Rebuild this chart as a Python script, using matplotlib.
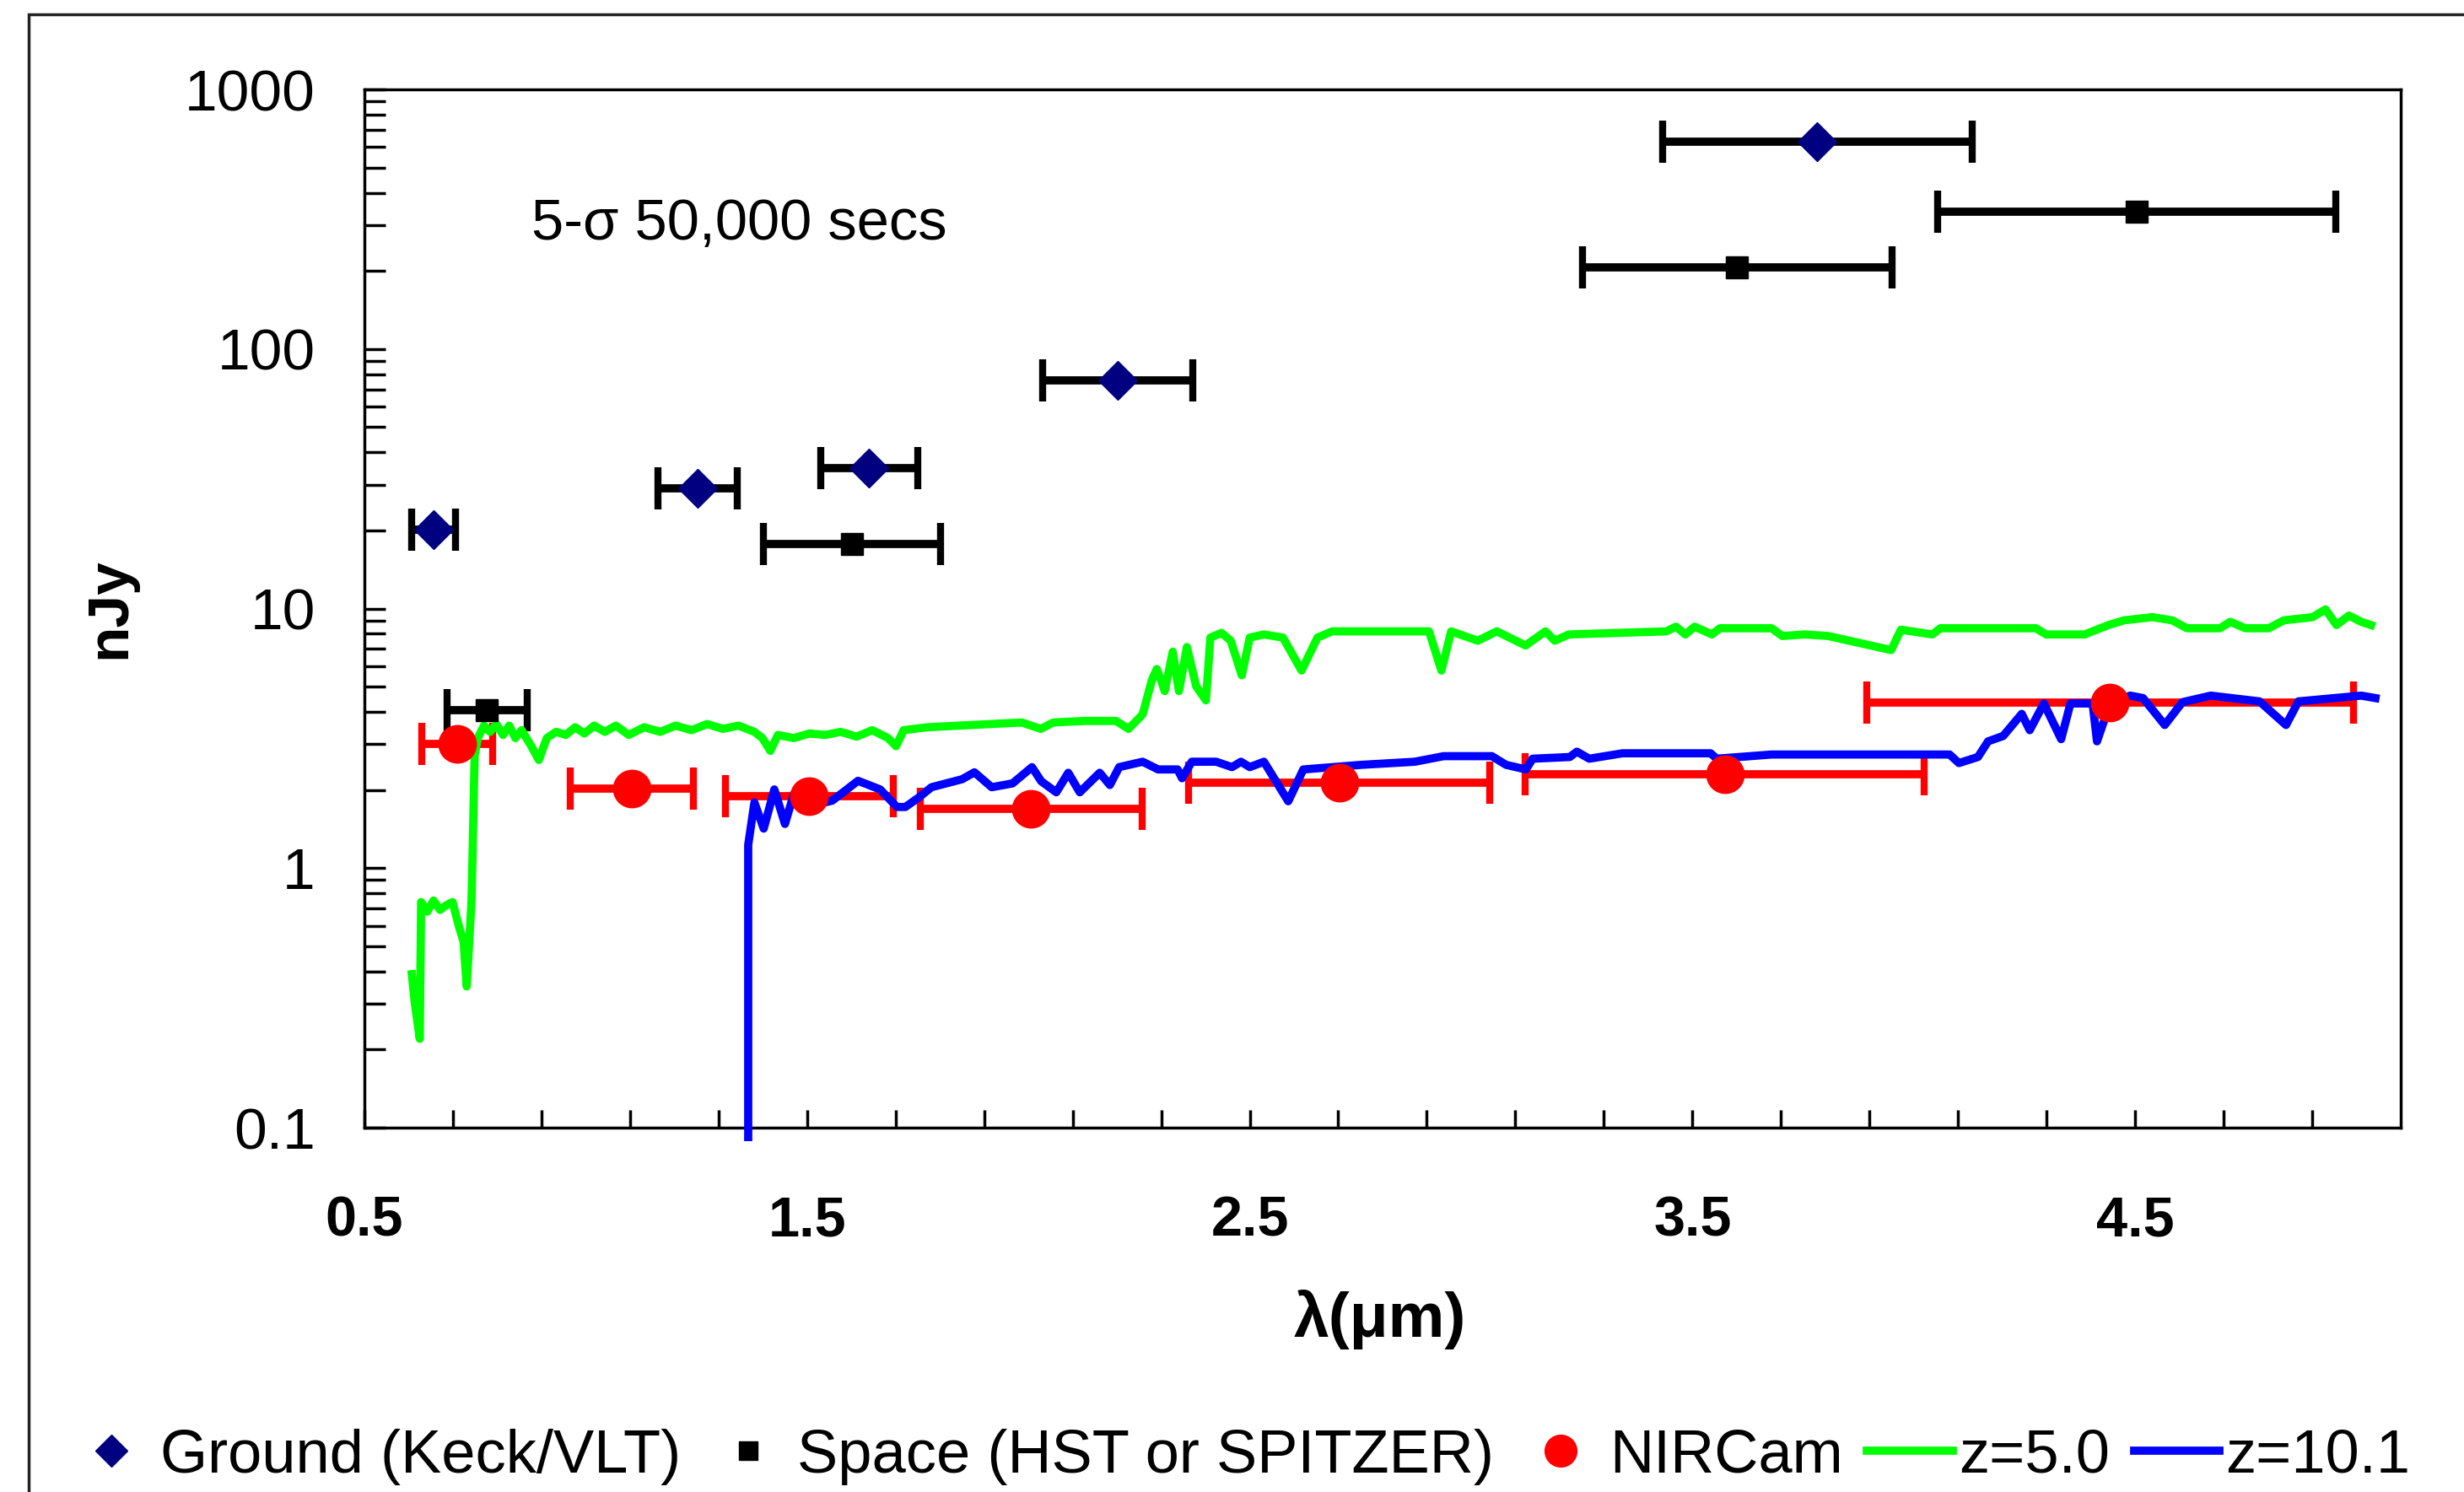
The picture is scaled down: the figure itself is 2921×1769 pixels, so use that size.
import matplotlib
matplotlib.use("Agg")
import matplotlib.pyplot as plt
from matplotlib.patches import Rectangle
from matplotlib.ticker import LogLocator, NullFormatter

plt.rcParams['font.family'] = ['Liberation Sans', 'DejaVu Sans']

# broadband 5-sigma limits, wavelength (um), flux (nJy), half band width (um)
ground_wl = [0.656, 1.253, 1.640, 2.202, 3.782]
ground_flux = [20.2, 29.0, 34.8, 75.9, 631.0]
ground_dwl = [0.05, 0.09, 0.11, 0.17, 0.35]

space_wl = [0.777, 1.601, 3.601, 4.504]
space_flux = [4.07, 17.8, 207.0, 337.0]
space_dwl = [0.09, 0.20, 0.35, 0.45]

nircam_wl = [0.710, 1.104, 1.505, 2.006, 2.702, 3.573, 4.443]
nircam_flux = [3.0, 2.03, 1.89, 1.69, 2.14, 2.30, 4.36]
nircam_dwl = [0.08, 0.14, 0.19, 0.25, 0.34, 0.45, 0.55]

# model galaxy spectra
z5_wl = [0.607, 0.614, 0.625, 0.628, 0.642, 0.656, 0.671, 0.685, 0.699, 0.713,
         0.724, 0.731, 0.742, 0.749, 0.756, 0.770, 0.784, 0.798, 0.813, 0.827,
         0.841, 0.855, 0.877, 0.894, 0.912, 0.933, 0.955, 0.976, 0.997, 1.019,
         1.043, 1.068, 1.097, 1.132, 1.168, 1.203, 1.239, 1.274, 1.310, 1.345,
         1.381, 1.399, 1.417, 1.434, 1.470, 1.505, 1.541, 1.576, 1.612, 1.647,
         1.683, 1.701, 1.718, 1.772, 1.843, 1.914, 1.985, 2.028, 2.056, 2.127,
         2.198, 2.226, 2.258, 2.279, 2.290, 2.308, 2.326, 2.340, 2.358, 2.379,
         2.401, 2.411, 2.436, 2.457, 2.482, 2.500, 2.532, 2.575, 2.617, 2.653,
         2.686, 2.905, 2.933, 2.955, 3.015, 3.058, 3.123, 3.168, 3.189, 3.221,
         3.441, 3.463, 3.484, 3.505, 3.544, 3.562, 3.679, 3.703, 3.754, 3.807,
         3.949, 3.971, 4.042, 4.060, 4.276, 4.299, 4.386, 4.440, 4.475, 4.539,
         4.584, 4.617, 4.692, 4.715, 4.749, 4.802, 4.836, 4.901, 4.930, 4.955,
         4.983, 5.011, 5.033]
z5_flux = [0.39, 0.30, 0.22, 0.74, 0.68, 0.75, 0.69, 0.72, 0.74, 0.60,
           0.52, 0.35, 0.75, 2.72, 3.17, 3.54, 3.35, 3.59, 3.26, 3.54,
           3.17, 3.40, 2.95, 2.61, 3.17, 3.35, 3.26, 3.49, 3.30, 3.54,
           3.35, 3.54, 3.26, 3.49, 3.35, 3.54, 3.40, 3.59, 3.44, 3.54,
           3.35, 3.17, 2.83, 3.26, 3.17, 3.30, 3.26, 3.35, 3.21, 3.40,
           3.17, 2.95, 3.40, 3.49, 3.54, 3.59, 3.64, 3.44, 3.64, 3.69,
           3.69, 3.44, 3.91, 5.31, 5.85, 4.81, 6.82, 4.81, 7.11, 5.02,
           4.43, 7.73, 8.06, 7.52, 5.53, 7.73, 7.95, 7.73, 5.77, 7.73,
           8.17, 8.17, 5.77, 8.17, 7.52, 8.17, 7.21, 8.17, 7.52, 7.95,
           8.17, 8.52, 7.95, 8.52, 7.95, 8.40, 8.40, 7.84, 7.95, 7.84,
           6.92, 8.29, 7.95, 8.40, 8.40, 7.95, 7.95, 8.64, 9.01, 9.27,
           9.01, 8.40, 8.40, 8.89, 8.40, 8.40, 9.01, 9.27, 9.93, 8.64,
           9.40, 8.89, 8.64]

z10_wl = [1.367, 1.367, 1.381, 1.402, 1.426, 1.450, 1.470, 1.498, 1.557, 1.615,
          1.665, 1.703, 1.722, 1.752, 1.781, 1.850, 1.878, 1.917, 1.964, 2.008,
          2.029, 2.063, 2.090, 2.116, 2.161, 2.184, 2.205, 2.258, 2.293, 2.337,
          2.347, 2.369, 2.424, 2.460, 2.480, 2.500, 2.532, 2.587, 2.621, 2.752,
          2.873, 2.938, 3.047, 3.079, 3.124, 3.139, 3.223, 3.239, 3.267, 3.342,
          3.541, 3.555, 3.679, 4.081, 4.102, 4.145, 4.168, 4.202, 4.244, 4.262,
          4.294, 4.333, 4.354, 4.404, 4.414, 4.442, 4.489, 4.518, 4.567, 4.607,
          4.671, 4.781, 4.841, 4.869, 5.011, 5.043]
z10_flux = [0.092, 1.23, 1.79, 1.42, 2.01, 1.48, 1.93, 1.72, 1.82, 2.17,
            2.01, 1.72, 1.72, 1.87, 2.05, 2.20, 2.34, 2.05, 2.12, 2.45,
            2.16, 1.96, 2.33, 1.96, 2.33, 2.09, 2.45, 2.57, 2.40, 2.40,
            2.22, 2.57, 2.57, 2.45, 2.57, 2.45, 2.57, 1.81, 2.40, 2.50,
            2.57, 2.70, 2.70, 2.50, 2.40, 2.64, 2.68, 2.81, 2.64, 2.77,
            2.77, 2.64, 2.74, 2.74, 2.54, 2.68, 3.08, 3.23, 3.93, 3.40,
            4.31, 3.14, 4.31, 4.31, 3.08, 4.24, 4.62, 4.52, 3.56, 4.36,
            4.62, 4.39, 3.56, 4.39, 4.62, 4.52]

xtick_major = [0.5, 1.5, 2.5, 3.5, 4.5]
xtick_labels = ['0.5', '1.5', '2.5', '3.5', '4.5']
xtick_minor = [0.7, 0.9, 1.1, 1.3, 1.7, 1.9, 2.1, 2.3, 2.7, 2.9, 3.1, 3.3,
               3.7, 3.9, 4.1, 4.3, 4.7, 4.9]
ytick_vals = [0.1, 1, 10, 100, 1000]
ytick_labels = ['0.1', '1', '10', '100', '1000']

fig = plt.figure(figsize=(29.21, 17.69), dpi=100)
fig.patches.append(Rectangle((0.0116, -0.2), 1.5, 1.1904, transform=fig.transFigure,
                             fill=False, edgecolor='#222222', lw=2.5, zorder=0))
ax = fig.add_axes([0.1479, 0.2442, 0.8264, 0.6958])

l_z5, = ax.plot(z5_wl, z5_flux, color='#00ff00', lw=7, zorder=3)
l_z10, = ax.plot(z10_wl, z10_flux, color='#0000ff', lw=7, zorder=3, clip_on=False)

eb = dict(fmt='none', elinewidth=7, capsize=18, capthick=6, zorder=2)
ax.errorbar(ground_wl, ground_flux, xerr=ground_dwl, ecolor='black', **eb)
ax.errorbar(space_wl, space_flux, xerr=space_dwl, ecolor='black', **eb)
ax.errorbar(nircam_wl, nircam_flux, xerr=nircam_dwl, ecolor='#ff0000', **eb)

m_g, = ax.plot(ground_wl, ground_flux, ls='none', marker='D', ms=23,
               color='#000080', zorder=4)
m_s, = ax.plot(space_wl, space_flux, ls='none', marker='s', ms=19,
               color='black', zorder=4)
m_n, = ax.plot(nircam_wl, nircam_flux, ls='none', marker='o', ms=32,
               color='#ff0000', zorder=4)

ax.set_yscale('log')
ax.set_xlim(0.5, 5.1)
ax.set_ylim(0.1, 1000)

ax.set_xticks(xtick_major)
ax.set_xticklabels(xtick_labels, fontsize=48, fontweight='bold')
ax.set_xticks(xtick_minor, minor=True)
ax.tick_params(axis='x', which='both', direction='in', length=15, width=2.5,
               pad=58, top=False)

ax.set_yticks(ytick_vals)
ax.set_yticklabels(ytick_labels, fontsize=50)
ax.yaxis.set_minor_locator(LogLocator(base=10, subs=range(2, 10)))
ax.yaxis.set_minor_formatter(NullFormatter())
ax.tick_params(axis='y', which='both', direction='in', length=18, width=2.5,
               pad=42, right=False)

for s in ax.spines.values():
    s.set_linewidth(2.5)

ax.set_xlabel('λ(μm)', fontsize=54, fontweight='bold', va='center')
ax.xaxis.set_label_coords(0.4988, -0.185)
ax.set_ylabel('nJy', fontsize=50, fontweight='bold', va='center')
ax.yaxis.set_label_coords(-0.125, 0.5)

ax.text(0.082, 0.87, '5-σ 50,000 secs', transform=ax.transAxes, fontsize=49.5,
        ha='left', va='center')

fig.legend([m_g, m_s, m_n, l_z5, l_z10],
           ['Ground (Keck/VLT)', 'Space (HST or SPITZER)', 'NIRCam', 'z=5.0', 'z=10.1'],
           loc='center left', bbox_to_anchor=(0.028, 0.0237), ncol=5, frameon=False,
           fontsize=52, handlelength=1.4, handletextpad=0.1, columnspacing=0.4,
           borderpad=0, borderaxespad=0, markerscale=0.85)

fig.savefig('out.png', dpi=100)
